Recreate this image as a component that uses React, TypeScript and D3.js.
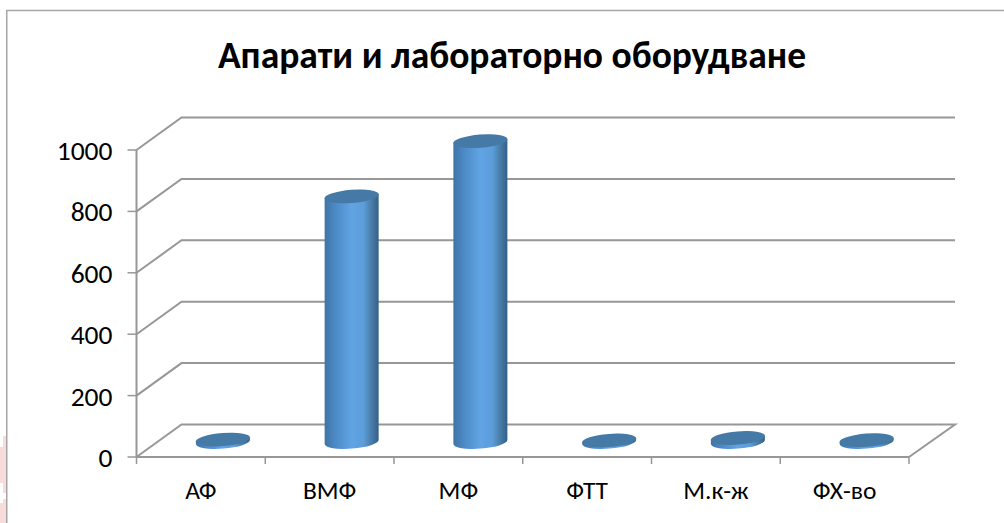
import React from "react";
import * as d3 from "d3";

const categories = ["АФ", "ВМФ", "МФ", "ФТТ", "М.к-ж", "ФХ-во"];
const values = [8, 800, 980, 5, 13, 6];
const yTicks = [0, 200, 400, 600, 800, 1000];
const title = "Апарати и лабораторно оборудване";

const W = 1004, H = 523;
const FX0 = 136.5, FX1 = 909, FY0 = 457, FY1 = 150; // front plane
const DX = 45, DY = -32.5; // depth offset of the back wall
const x = d3.scaleBand<string>().domain(categories).range([FX0, FX1]);
const y = d3.scaleLinear().domain([0, 1000]).range([FY0, FY1]);
const FONT = "Carlito, Calibri, Lato, 'Open Sans', sans-serif";
const GRID = "#979797";

export default function App() {
  const rx = 27, ry = 6.6, skew = -4.5;
  const baseY = 442; // bar base centre
  const barShift = 22; // half of the depth offset
  const tilt = rx * Math.tan((skew * Math.PI) / 180);
  return (
    <svg width={W} height={H} viewBox={`0 0 ${W} ${H}`}
      style={{ position: "absolute", left: 0, top: 0, display: "block", background: "#fff" }}>
      <defs>
        <linearGradient id="cyl" x1="0" x2="1" y1="0" y2="0">
          <stop offset="0" stopColor="#3f74a6" />
          <stop offset="0.2" stopColor="#4c8ac6" />
          <stop offset="0.5" stopColor="#61a4e4" />
          <stop offset="0.72" stopColor="#5c9dda" />
          <stop offset="0.9" stopColor="#44769f" />
          <stop offset="1" stopColor="#335f8a" />
        </linearGradient>
      </defs>
      {/* fragment of the page behind the chart frame */}
      <path d="M3,436 H6 V523 H0 V503 H3 V499 H6 V493 H3 V483 H0 V447 H3 Z" fill="#f8dcd9" />
      <rect x={6.75} y={10.5} width={1030} height={560} fill="#fff" stroke="#a6a6a6" strokeWidth={1.5} />
      <text x={512} y={67.5} textAnchor="middle" fontFamily={FONT} fontWeight={700} fontSize={37.5} fill="#000">{title}</text>

      {/* floor */}
      <path d={`M${FX0},${FY0} L${FX0 + DX},${FY0 + DY} L${FX1 + DX + 1},${FY0 + DY} L${FX1},${FY0}`}
        fill="none" stroke={GRID} strokeWidth={2} />
      {/* gridlines */}
      {yTicks.filter(t => t > 0).map(t => (
        <path key={t} d={`M${FX0},${y(t)} L${FX0 + DX},${y(t) + DY} L${FX1 + DX + 1},${y(t) + DY}`}
          fill="none" stroke={GRID} strokeWidth={2} />
      ))}
      {/* axes */}
      <line x1={FX0} x2={FX0} y1={y(1000)} y2={FY0} stroke={GRID} strokeWidth={2} />
      <line x1={FX0} x2={FX1} y1={FY0} y2={FY0} stroke={GRID} strokeWidth={2} />
      {yTicks.map(t => (
        <g key={t}>
          <line x1={FX0 - 9} x2={FX0} y1={y(t)} y2={y(t)} stroke={GRID} strokeWidth={1.5} />
          <text x={112.5} y={y(t) + 10} textAnchor="end" fontFamily={FONT} fontSize={27.5} fill="#000">{t}</text>
        </g>
      ))}
      {[...categories.map(c => x(c)!), FX1].map((px, i) => (
        <line key={i} x1={px} x2={px} y1={FY0} y2={FY0 + 7} stroke={GRID} strokeWidth={1.5} />
      ))}
      {categories.map(c => (
        <text key={c} x={x(c)! + x.bandwidth() / 2} y={499} textAnchor="middle"
          fontFamily={FONT} fontSize={25.5} fill="#000">{c}</text>
      ))}

      {/* bars */}
      {categories.map((c, i) => {
        const cx = x(c)! + x.bandwidth() / 2 + barShift;
        const top = baseY - (FY0 - y(values[i]));
        return (
          <g key={c}>
            <path d={`M${cx - rx},${top - tilt} L${cx - rx},${baseY - tilt} A${rx},${ry} ${skew} 0 0 ${cx + rx},${baseY + tilt} L${cx + rx},${top + tilt} Z`}
              fill="url(#cyl)" />
            <ellipse cx={cx} cy={top} rx={rx + 0.2} ry={ry} fill="#4579a6" transform={`rotate(${skew} ${cx} ${top})`} />
          </g>
        );
      })}
    </svg>
  );
}
